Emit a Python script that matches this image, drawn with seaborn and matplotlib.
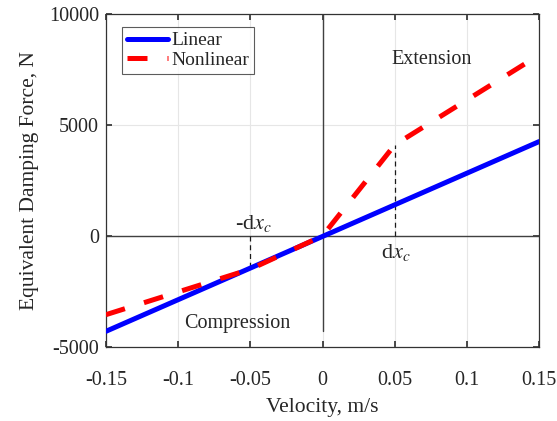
import numpy as np
import pandas as pd
import matplotlib
matplotlib.use("Agg")
import matplotlib.pyplot as plt
import seaborn as sns

# data
velocity_linear = [-0.15, 0.15]
force_linear = [-4300, 4250]

velocity_nonlinear = [-0.15, -0.05, 0.0, 0.05, 0.15]
force_nonlinear = [-3550, -1500, 0, 4100, 8150]

dxc = 0.05
x_ticks = [-0.15, -0.1, -0.05, 0, 0.05, 0.1, 0.15]
x_tick_labels = ["-0.15", "-0.1", "-0.05", "0", "0.05", "0.1", "0.15"]
y_ticks = [-5000, 0, 5000, 10000]

sns.set_theme(style="whitegrid")
plt.rcParams["font.family"] = ["Liberation Serif", "DejaVu Serif"]
plt.rcParams["mathtext.fontset"] = "stix"
plt.rcParams["axes.unicode_minus"] = False

lin = pd.DataFrame({"v": velocity_linear, "F": force_linear})
nonlin = pd.DataFrame({"v": velocity_nonlinear, "F": force_nonlinear})

fig = plt.figure(figsize=(5.57, 4.21), dpi=100)
ax = fig.add_axes([0.190, 0.176, 0.778, 0.791])

# axis cross lines
ax.axhline(0, color="#404040", lw=1.0, zorder=1)
ax.plot([0, 0], [-4300, 10000], color="#404040", lw=1.0, zorder=1)

# dx_c markers from zero to the nonlinear curve
ax.plot([-dxc, -dxc], [0, force_nonlinear[1]], color="k", lw=0.9, ls=(0, (4, 3)), zorder=2)
ax.plot([dxc, dxc], [0, force_nonlinear[3]], color="k", lw=0.9, ls=(0, (4, 3)), zorder=2)

sns.lineplot(data=lin, x="v", y="F", ax=ax, color="#0000ff", lw=3.6, label="Linear", zorder=3)
sns.lineplot(data=nonlin, x="v", y="F", ax=ax, color="#ff0000", lw=3.6,
             label="Nonlinear", zorder=4)
ax.lines[-1].set_dashes([4, 4])

ax.set_xlim(-0.15, 0.15)
ax.set_ylim(-5000, 10000)
ax.set_xticks(x_ticks)
ax.set_xticklabels(x_tick_labels)
ax.set_yticks(y_ticks)
ax.grid(True, color="#e6e6e6", lw=0.8)
ax.set_facecolor("white")
for s in ax.spines.values():
    s.set_color("#333333")
    s.set_linewidth(0.9)
ax.tick_params(axis="both", direction="in", length=4, labelsize=14.5, color="#333333",
               top=True, right=True, bottom=True, left=True)
ax.tick_params(axis="x", pad=17)
ax.tick_params(axis="y", pad=5)

ax.set_xlabel("Velocity, m/s", fontsize=15.5, labelpad=6)
ax.set_ylabel("Equivalent Damping Force, N", fontsize=15.5, labelpad=7)

ax.text(0.0755, 7950, "Extension", fontsize=14.5, ha="center", va="center")
ax.text(-0.059, -3950, "Compression", fontsize=14.5, ha="center", va="center")
ax.text(-0.0475, 580, r"-d$x_c$", fontsize=16, ha="center", va="center")
ax.text(0.0505, -750, r"d$x_c$", fontsize=16, ha="center", va="center")

leg = ax.legend(loc="upper left", fontsize=14, frameon=True, fancybox=False,
                handlelength=2.1, borderpad=0.25, labelspacing=0.1, handletextpad=0.2,
                borderaxespad=0, bbox_to_anchor=(0.037, 0.961))
leg.get_frame().set_edgecolor("#333333")
leg.get_frame().set_linewidth(0.8)

fig.savefig("out.png", dpi=100)
